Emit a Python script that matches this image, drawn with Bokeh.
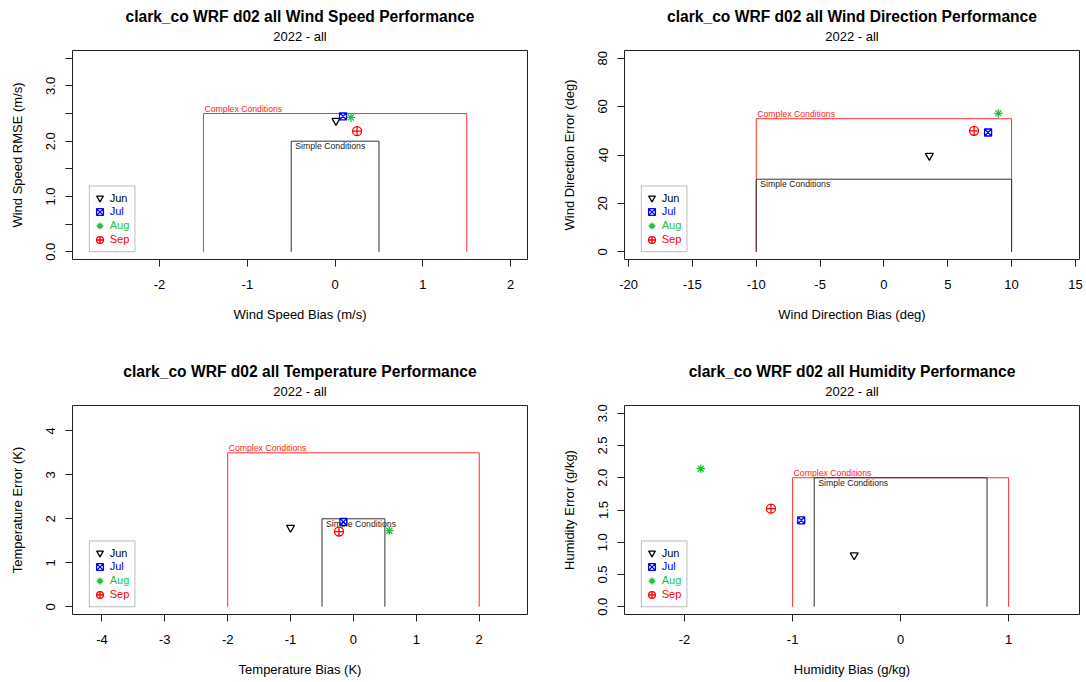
import math
from bokeh.plotting import figure
from bokeh.layouts import gridplot
from bokeh.models import Range1d, FixedTicker, Title, Legend, LegendItem, BoxAnnotation
from bokeh.core.properties import value
from bokeh.embed import file_html
from bokeh.resources import INLINE

FONT = "Liberation Sans"

# ---------------- data ----------------
months = ["Jun", "Jul", "Aug", "Sep"]
month_colors = ["#000000", "#0000FF", "#1DBF3A", "#FF0000"]
month_markers = ["inverted_triangle", "square_x", "asterisk", "circle_cross"]
marker_sizes = [8, 7, 8.5, 9]

site_title = "clark_co WRF d02 all"
subtitle = "2022 - all"

# Wind speed
ws_bias = [0.01, 0.09, 0.18, 0.25]
ws_rmse = [2.37, 2.45, 2.43, 2.18]
ws_simple_bias = [-0.5, 0.5]
ws_simple_err = 2.0
ws_complex_bias = [-1.5, 1.5]
ws_complex_err = 2.5
ws_xlim = [-2.8, 2.0]
ws_ylim = [0, 3.5]
ws_xticks = [-2, -1, 0, 1, 2]
ws_xtick_labels = ["-2", "-1", "0", "1", "2"]
ws_yticks = [0, 0.5, 1, 1.5, 2, 2.5, 3, 3.5]
ws_ytick_labels = ["0.0", "", "1.0", "", "2.0", "", "3.0", ""]

# Wind direction
wd_bias = [3.56, 8.16, 8.97, 7.06]
wd_err = [39.7, 49.3, 57.2, 50.0]
wd_simple_bias = [-10, 10]
wd_simple_err = 30
wd_complex_bias = [-10, 10]
wd_complex_err = 55
wd_xlim = [-19, 14]
wd_ylim = [0, 80]
wd_xticks = [-20, -15, -10, -5, 0, 5, 10, 15]
wd_xtick_labels = ["-20", "-15", "-10", "-5", "0", "5", "10", "15"]
wd_yticks = [0, 20, 40, 60, 80]
wd_ytick_labels = ["0", "20", "40", "60", "80"]

# Temperature
t_bias = [-1.00, -0.16, 0.57, -0.23]
t_err = [1.80, 1.93, 1.73, 1.71]
t_simple_bias = [-0.5, 0.5]
t_simple_err = 2.0
t_complex_bias = [-2, 2]
t_complex_err = 3.5
t_xlim = [-4.2, 2.5]
t_ylim = [0, 4.4]
t_xticks = [-4, -3, -2, -1, 0, 1, 2]
t_xtick_labels = ["-4", "-3", "-2", "-1", "0", "1", "2"]
t_yticks = [0, 1, 2, 3, 4]
t_ytick_labels = ["0", "1", "2", "3", "4"]

# Humidity
q_bias = [-0.43, -0.92, -1.85, -1.20]
q_err = [0.80, 1.34, 2.14, 1.52]
q_simple_bias = [-0.8, 0.8]
q_simple_err = 2.0
q_complex_bias = [-1, 1]
q_complex_err = 2.0
q_xlim = [-2.4, 1.5]
q_ylim = [0, 3]
q_xticks = [-2, -1, 0, 1]
q_xtick_labels = ["-2", "-1", "0", "1"]
q_yticks = [0, 0.5, 1, 1.5, 2, 2.5, 3]
q_ytick_labels = ["0.0", "0.5", "1.0", "1.5", "2.0", "2.5", "3.0"]


def make_panel(var, xlabel, ylabel, bias, err, sb, se, cb, ce, xlim, ylim,
               xt, xtl, yt, ytl, bl, br, bt, bb, W=543, H=341):
    pad = 0.04
    dx = (xlim[1] - xlim[0]) * pad
    dy = (ylim[1] - ylim[0]) * pad
    p = figure(width=W, height=H,
               x_range=Range1d(xlim[0] - dx, xlim[1] + dx),
               y_range=Range1d(ylim[0] - dy, ylim[1] + dy),
               output_backend="svg", toolbar_location=None,
               min_border_left=bl, min_border_right=br,
               min_border_top=bt, min_border_bottom=bb,
               background_fill_color="white", border_fill_color="white")
    p.grid.visible = False
    p.outline_line_color = "#222222"
    p.outline_line_width = 1

    # titles (subtitle first => closest to frame)
    p.add_layout(Title(text=subtitle, align="center", text_font=FONT,
                       text_font_size="13px", text_font_style="normal",
                       text_color="black", standoff=9, vertical_align="top"), "above")
    p.add_layout(Title(text=f"{site_title} {var} Performance", align="center",
                       text_font=FONT, text_font_size="15.6px",
                       text_font_style="bold", text_color="black", standoff=0), "above")

    # axes
    for ax, ticks, labels in ((p.xaxis[0], xt, xtl), (p.yaxis[0], yt, ytl)):
        ax.ticker = FixedTicker(ticks=ticks)
        ax.major_label_overrides = {t: l for t, l in zip(ticks, labels)}
        ax.axis_line_color = None
        ax.major_tick_in = 0
        ax.major_tick_out = 7
        ax.major_tick_line_color = "#222222"
        ax.minor_tick_out = 0
        ax.minor_tick_in = 0
        ax.major_label_text_font = FONT
        ax.major_label_text_font_size = "13px"
        ax.major_label_text_color = "black"
        ax.axis_label_text_font = FONT
        ax.axis_label_text_font_size = "13px"
        ax.axis_label_text_font_style = "normal"
        ax.axis_label_text_color = "black"
    p.xaxis.axis_label = xlabel
    p.yaxis.axis_label = ylabel
    p.xaxis.major_label_standoff = 13
    p.xaxis.axis_label_standoff = 15
    p.yaxis.major_label_orientation = "vertical"
    p.yaxis.major_label_standoff = 10
    p.yaxis.axis_label_standoff = 19

    # condition boxes
    p.line(x=[cb[0], cb[0], cb[1], cb[1]], y=[0, ce, ce, 0], line_color="#FF3030", line_width=1)
    p.line(x=[sb[0], sb[0], sb[1], sb[1]], y=[0, se, se, 0], line_color="#333333", line_width=1)
    p.text(x=[cb[0]], y=[ce], text=["Complex Conditions"], text_baseline="middle",
           text_align="left", x_offset=1, y_offset=-5, text_color="#FF2020",
           text_font=value(FONT), text_font_size="8.7px")
    p.text(x=[sb[0]], y=[se], text=["Simple Conditions"], text_baseline="middle",
           text_align="left", x_offset=4, y_offset=5, text_color="#222222",
           text_font=value(FONT), text_font_size="8.7px")

    # points
    rends = []
    for i, m in enumerate(months):
        r = p.scatter(x=[bias[i]], y=[err[i]], marker=month_markers[i], size=marker_sizes[i],
                      line_color=month_colors[i], fill_color=None, line_width=1.3)
        rends.append(r)

    # legend (bottom-left at data (xmin, 0))
    fw = W - bl - br
    fh = H - bt - bb
    lx = fw * pad / (1 + 2 * pad)
    ly = fh * pad / (1 + 2 * pad)
    lw, lh = 45.6, 65.8
    p.add_layout(BoxAnnotation(left=lx, right=lx + lw, bottom=ly, top=ly + lh,
                               left_units="screen", right_units="screen",
                               top_units="screen", bottom_units="screen",
                               fill_color=None, fill_alpha=0,
                               line_color="#222222", line_width=1))
    g = 17
    for i, m in enumerate(months):
        cy = ly + lh - 12.2 - 13.8 * i
        lg = Legend(items=[LegendItem(label=m, renderers=[rends[i]])],
                    location=(lx + 10.4 - g / 2, cy - g / 2),
                    border_line_color=None, background_fill_alpha=0,
                    padding=0, margin=0, spacing=0,
                    glyph_width=g, glyph_height=g, label_height=g,
                    label_standoff=2, label_text_color=month_colors[i],
                    label_text_font=FONT, label_text_font_size="11px")
        p.add_layout(lg)
    return p


p1 = make_panel("Wind Speed", "Wind Speed Bias (m/s)", "Wind Speed RMSE (m/s)",
                ws_bias, ws_rmse, ws_simple_bias, ws_simple_err, ws_complex_bias, ws_complex_err,
                ws_xlim, ws_ylim, ws_xticks, ws_xtick_labels, ws_yticks, ws_ytick_labels,
                72, 16, 50, 82)
p2 = make_panel("Wind Direction", "Wind Direction Bias (deg)", "Wind Direction Error (deg)",
                wd_bias, wd_err, wd_simple_bias, wd_simple_err, wd_complex_bias, wd_complex_err,
                wd_xlim, wd_ylim, wd_xticks, wd_xtick_labels, wd_yticks, wd_ytick_labels,
                81, 7, 50, 82)
p3 = make_panel("Temperature", "Temperature Bias (K)", "Temperature Error (K)",
                t_bias, t_err, t_simple_bias, t_simple_err, t_complex_bias, t_complex_err,
                t_xlim, t_ylim, t_xticks, t_xtick_labels, t_yticks, t_ytick_labels,
                72, 16, 64, 68)
p4 = make_panel("Humidity", "Humidity Bias (g/kg)", "Humidity Error (g/kg)",
                q_bias, q_err, q_simple_bias, q_simple_err, q_complex_bias, q_complex_err,
                q_xlim, q_ylim, q_xticks, q_xtick_labels, q_yticks, q_ytick_labels,
                81, 7, 64, 68)

grid = gridplot([[p1, p2], [p3, p4]], toolbar_location=None)
open("out.html", "w").write(file_html(grid, INLINE))
